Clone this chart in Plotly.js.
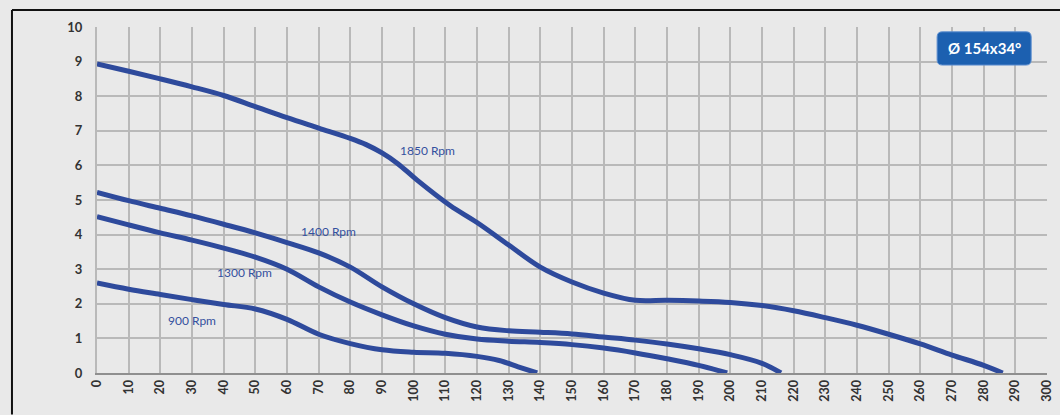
<!DOCTYPE html>
<html><head><meta charset="utf-8">
<script src="https://cdn.plot.ly/plotly-3.0.1.min.js"></script>
<style>html,body{margin:0;padding:0;background:#e9e9e9;overflow:hidden;}#chart{width:1060px;height:415px;}</style>
</head><body><div id="chart"></div>
<script>
const x1850 = [0, 10, 20, 30, 40, 50, 60, 70, 80, 85, 90, 95, 101, 111.5, 120, 130, 140, 150, 160, 170, 180, 190, 200, 210, 220, 230, 240, 250, 260, 270, 280, 286];
const y1850 = [8.93, 8.72, 8.5, 8.27, 8.02, 7.7, 7.38, 7.08, 6.78, 6.6, 6.36, 6.05, 5.58, 4.84, 4.35, 3.7, 3.06, 2.63, 2.31, 2.1, 2.1, 2.08, 2.04, 1.95, 1.8, 1.6, 1.38, 1.12, 0.84, 0.52, 0.22, 0];
const x1400 = [0, 10, 20, 30, 40, 50, 60, 70, 80, 90, 100, 110, 120, 130, 140, 150, 160, 170, 180, 190, 200, 210, 216];
const y1400 = [5.22, 4.98, 4.76, 4.54, 4.3, 4.05, 3.77, 3.47, 3.06, 2.49, 2.0, 1.6, 1.33, 1.22, 1.18, 1.13, 1.04, 0.95, 0.84, 0.7, 0.53, 0.28, 0];
const x1300 = [0, 10, 20, 30, 40, 50, 60, 70, 80, 90, 100, 110, 120, 130, 140, 150, 160, 170, 180, 190, 199];
const y1300 = [4.52, 4.28, 4.05, 3.84, 3.61, 3.35, 3.0, 2.49, 2.05, 1.68, 1.36, 1.12, 0.98, 0.92, 0.88, 0.82, 0.72, 0.58, 0.41, 0.22, 0];
const x900 = [0, 10, 20, 30, 40, 50, 60, 70, 80, 90, 100, 110, 120, 127, 133, 139];
const y900 = [2.6, 2.42, 2.27, 2.12, 1.98, 1.85, 1.55, 1.12, 0.85, 0.67, 0.6, 0.57, 0.48, 0.36, 0.18, 0];
const curveNames = ['1850 Rpm', '1400 Rpm', '1300 Rpm', '900 Rpm'];
const labelX = [104.5, 73, 46.5, 30];
const labelY = [6.43, 4.1, 2.9, 1.53];
const xTicks = [0,10,20,30,40,50,60,70,80,90,100,110,120,130,140,150,160,170,180,190,200,210,220,230,240,250,260,270,280,290,300];
const yTicks = [0,1,2,3,4,5,6,7,8,9,10];
const badgeText = 'Ø 154x34°';

const lineColor = '#2e4a9c';
const xs = [x1850, x1400, x1300, x900];
const ys = [y1850, y1400, y1300, y900];
const traces = xs.map((x, i) => ({
  x: x, y: ys[i], mode: 'lines', name: curveNames[i],
  line: {color: lineColor, width: 5, shape: 'spline', smoothing: 1},
  hoverinfo: 'skip'
}));

const annotations = curveNames.map((n, i) => ({
  x: labelX[i], y: labelY[i], text: n, showarrow: false,
  font: {family: 'Lato, "Open Sans", sans-serif', size: 12, color: '#34509e'}
}));
annotations.push({
  x: 280.2, y: 9.38, text: '<b>' + badgeText + '</b>', showarrow: false,
  font: {family: 'Lato, "Open Sans", sans-serif', size: 15, color: '#ffffff'}
});

const layout = {
  width: 1060, height: 415,
  margin: {l: 97, r: 13, t: 27, b: 42},
  paper_bgcolor: '#e9e9e9', plot_bgcolor: '#e9e9e9',
  showlegend: false,
  xaxis: {
    range: [0, 300], tickvals: xTicks, ticktext: xTicks.map(String), tickangle: -90,
    showgrid: true, gridcolor: '#b9b9b9', gridwidth: 2, zeroline: false,
    showline: true, linecolor: '#8f8f8f', linewidth: 2, ticks: '', ticklen: 0,
    tickfont: {family: 'Lato, "Open Sans", sans-serif', size: 12.5, color: '#333333', weight: 'bold'}
  },
  yaxis: {
    range: [0, 10], tickvals: yTicks, ticktext: yTicks.map(String),
    showgrid: true, gridcolor: '#b9b9b9', gridwidth: 2, zeroline: false,
    showline: true, linecolor: '#b9b9b9', linewidth: 2, ticks: '', ticklen: 0,
    tickfont: {family: 'Lato, "Open Sans", sans-serif', size: 13, color: '#333333', weight: 'bold'},
    ticklabelstandoff: 10
  },
  annotations: annotations,
  shapes: [
    {type: 'line', xref: 'paper', yref: 'paper', x0: -0.0895, x1: -0.0895, y0: -0.12, y1: 1.049,
     line: {color: '#111111', width: 2}, layer: 'below'},
    {type: 'line', xref: 'paper', yref: 'paper', x0: -0.0895, x1: 1.0137, y0: 1.049, y1: 1.049,
     line: {color: '#111111', width: 2}, layer: 'below'},
    {type: 'path', xref: 'x', yref: 'y', layer: 'above',
     path: 'M 266.9,9.86 L 293.4,9.86 Q 295,9.86 295,9.71 L 295,9.05 Q 295,8.9 293.4,8.9 L 266.9,8.9 Q 265.3,8.9 265.3,9.05 L 265.3,9.71 Q 265.3,9.86 266.9,9.86 Z',
     fillcolor: '#1c60b0', line: {color: '#5d8fd0', width: 1}}
  ]
};

Plotly.newPlot('chart', traces, layout, {displayModeBar: false, staticPlot: true});
</script></body></html>
